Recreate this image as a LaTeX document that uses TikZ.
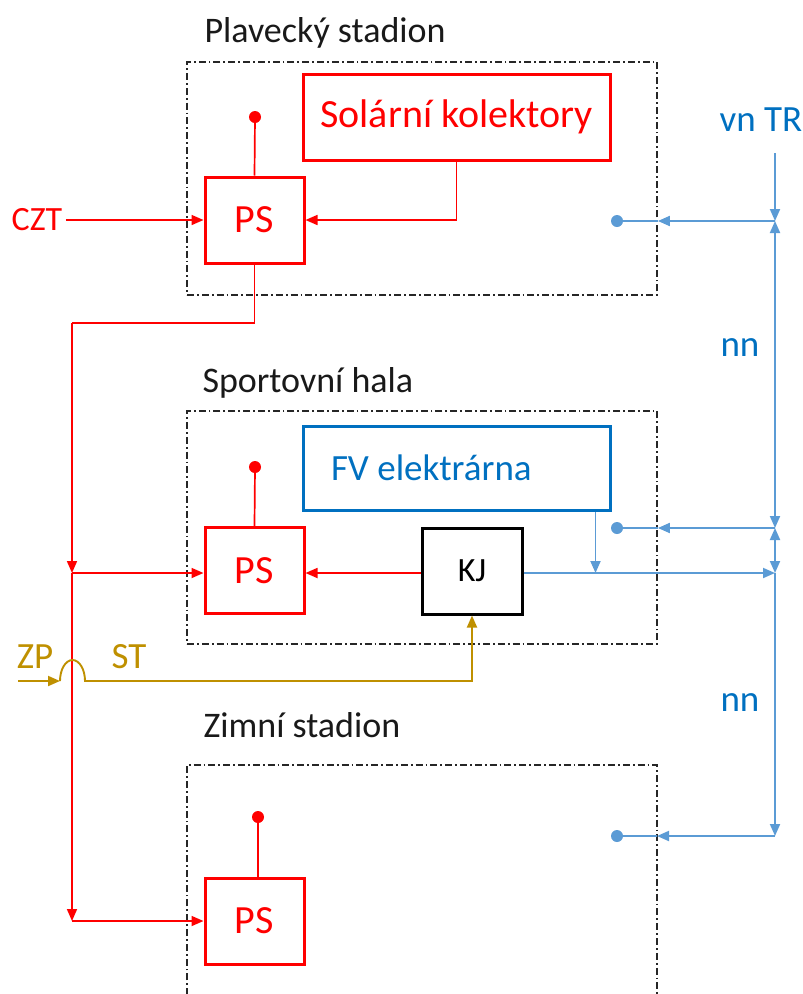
\documentclass[tikz,border=0pt]{standalone}
\usepackage{fontspec}
\setmainfont{Carlito}
\usetikzlibrary{arrows.meta,positioning}
\definecolor{heatred}{RGB}{255,0,0}
\definecolor{elblue}{RGB}{0,112,192}
\definecolor{wireblue}{RGB}{91,155,213}
\definecolor{gasgold}{RGB}{191,144,0}

\begin{document}
\begin{tikzpicture}[x=1pt,y=-1pt,>={Triangle[length=12pt,width=10pt]},
    font=\fontsize{37}{44}\selectfont,
    area/.style={draw=black!85,line width=1.8pt,dash pattern=on 7pt off 3pt on 1.8pt off 3pt,
      minimum width=470pt,minimum height=233pt},
    title/.style={anchor=base west,text=black!90,font=\fontsize{36}{43}\selectfont},
    big/.style={font=\fontsize{40}{48}\selectfont},
    small/.style={font=\fontsize{34}{40}\selectfont},
    psbox/.style={draw=heatred,line width=3pt,text=heatred,big,minimum width=99pt,minimum height=86pt},
    heat/.style={draw=heatred,line width=1.7pt},
    power/.style={draw=wireblue,line width=1.9pt},
    gas/.style={draw=gasgold,line width=1.9pt},
    rdot/.style={circle,fill=heatred,inner sep=0pt,minimum size=12pt},
    bdot/.style={circle,fill=wireblue,inner sep=0pt,minimum size=12pt}]
    \clip (0,0) rectangle (803,994);
    % three buildings
    \node[area] (plav) at (422,178.5) {};
    \node[area] (hala) at (422,527.5) {};
    \draw[draw=black!85,line width=1.8pt,dash pattern=on 7pt off 3pt on 1.8pt off 3pt]
      (187,1010) |- (657,765) -- (657,1010);
    \node[title] (plavt) at (201,42) {Plavecký stadion};
    \node[title] (halat) at (199,392) {Sportovní hala};
    \node[title] (zimt) at (200,737) {Zimní stadion};
    % sources
    \node[psbox,minimum width=307pt] (sol) at (456.5,117) {Solární kolektory};
    \node[draw=elblue,line width=3pt,text=elblue,minimum width=307pt,minimum height=84pt,
      inner xsep=28pt,text width=251pt,align=flush left] (fv) at (456.5,468) {FV elektrárna};
    \node[draw,line width=3pt,small,minimum width=100pt,minimum height=86pt] (kj) at (472,571) {KJ};
    \node[psbox] (ps1) at (254.5,220) {PS};
    \node[psbox] (ps2) at (254.5,570.5) {PS};
    \node[psbox] (ps3) at (254.5,921) {PS};
    \node[rdot] (r1) at (255,117) {};
    \node[rdot] (r2) at (255,467) {};
    \node[rdot] (r3) at (258,817) {};
    \draw[heat] (r1) -- (ps1.north);
    \draw[heat] (r2) -- (ps2.north);
    \draw[heat] (r3) -- (r3 |- ps3.north);
    % heat
    \node[text=heatred,small] (czt) at (37,220) {CZT};
    \coordinate (bend) at (72,323);
    \coordinate (split) at (72,573);
    \coordinate (low) at (72,921);
    \draw[heat,->] (czt.east) -- (ps1.west);
    \draw[heat,->] (sol.south) |- (ps1.east);
    \draw[heat] (ps1.south) |- (bend);
    \draw[heat,->] (bend) -- (split);
    \draw[heat,->] (split) -- (ps2.west |- split);
    \draw[heat,->] (kj.west |- split) -- (ps2.east |- split);
    \draw[heat,->] (split) -- (low);
    \draw[heat,->] (low) -- (ps3.west);
    % gas
    \node[text=gasgold] (zp) at (35,657) {ZP};
    \node[text=gasgold] (st) at (129,657) {ST};
    \coordinate (zpin) at (18,681);
    \coordinate (hop) at (60,681);
    \draw[gas,->] (zpin) -- (hop);
    \draw[gas,->] (hop) arc[start angle=180,end angle=0,x radius=12.5pt,y radius=21pt]
      -- (kj.south |- hop) -- (kj.south);
    % electricity
    \node[text=elblue] (vn) at (761,120) {vn TR};
    \node[text=elblue] (nn1) at (740,348) {nn};
    \node[text=elblue] (nn2) at (740,703) {nn};
    \coordinate (tr) at (775,153);
    \coordinate (j1) at (775,221);
    \coordinate (j2) at (775,528);
    \coordinate (j3) at (775,573);
    \coordinate (j4) at (775,836);
    \node[bdot] (d1) at (617,221) {};
    \node[bdot] (d2) at (617,528) {};
    \node[bdot] (d3) at (617,836) {};
    \draw[power,->] (tr) -- (j1);
    \draw[power,<->] (j1) -- (j2);
    \draw[power,<->] (j2) -- (j3);
    \draw[power,->] (j3) -- (j4);
    \draw[power,->] (j1) -- (plav.east |- j1);
    \draw[power] (plav.east |- j1) -- (d1);
    \draw[power,->] (j2) -- (hala.east |- j2);
    \draw[power] (hala.east |- j2) -- (d2);
    \draw[power,->] (j4) -- (657,836);
    \draw[power] (657,836) -- (d3);
    \draw[power,->] (kj.east |- j3) -- (j3);
    \draw[power,->] ([xshift=-16pt]fv.south east) -- ([xshift=-16pt]fv.south east |- j3);
\end{tikzpicture}
\end{document}
